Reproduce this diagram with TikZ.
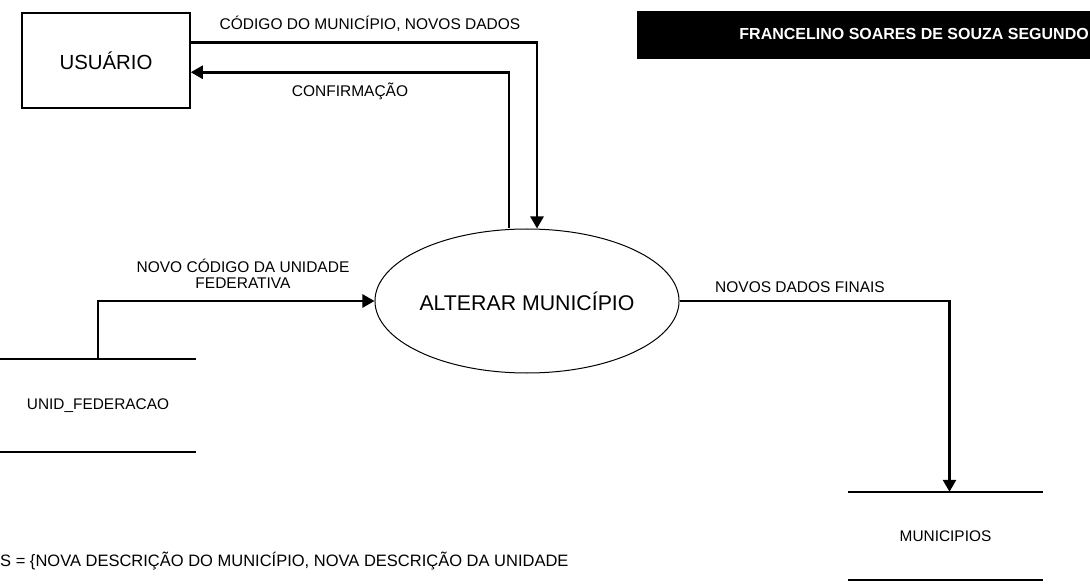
\documentclass[tikz,border=0pt]{standalone}
\usepackage{fontspec}
\setmainfont{Liberation Sans}
\usetikzlibrary{positioning,arrows.meta,shapes.geometric}

\begin{document}
\begin{tikzpicture}[
x=1pt, y=-1pt,
entity/.style={draw, line width=1.5pt, minimum width=168pt, minimum height=95pt, font=\fontsize{20.4}{22}\selectfont},
process/.style={draw, ellipse, line width=1pt, minimum width=244pt, minimum height=144pt, inner sep=0pt, font=\fontsize{21.3}{23}\selectfont},
store/.style={inner sep=0pt, font=\fontsize{15.4}{17}\selectfont},
storeline/.style={line width=1.5pt},
flow/.style={-{Triangle[length=12pt, width=13pt]}, line width=2.6pt},
lbl/.style={font=\fontsize{15.5}{16.5}\selectfont, inner sep=1pt, align=center},
banner/.style={fill=black, minimum width=460pt, minimum height=48pt, inner sep=0pt}
]
\useasboundingbox (0,0) rectangle (1090,588);

% entidade externa e processo
\node[entity] (usr) at (106,60.5) {USUÁRIO};
\node[process] (proc) at (527,301) {ALTERAR MUNICÍPIO};

% depositos de dados
\node[store, minimum width=196pt, minimum height=93pt] (ufe) at (98,405.5) {UNID\_FEDERACAO};
\draw[storeline] (ufe.north west) -- (ufe.north east);
\draw[storeline] (ufe.south west) -- (ufe.south east);
\node[store, minimum width=195pt, minimum height=88pt] (mun) at (945.5,536) {MUNICIPIOS};
\draw[storeline] (mun.north west) -- (mun.north east);
\draw[storeline] (mun.south west) -- (mun.south east);

% fluxos
\draw[flow] ([yshift=-30pt]usr.north east) -| ([xshift=10pt]proc.north);
\draw[flow] ([xshift=-18pt]proc.north) |- ([yshift=-60pt]usr.north east);
\draw[flow] (ufe.north) |- (proc.west);
\draw[flow] (proc.east) -| ([xshift=4pt]mun.north);

% rotulos dos fluxos
\node[lbl] (l1) at (370,24) {CÓDIGO DO MUNICÍPIO, NOVOS DADOS};
\node[lbl] (l2) at (350,91) {CONFIRMAÇÃO};
\node[lbl] (l3) at (243,274) {NOVO CÓDIGO DA UNIDADE\\FEDERATIVA};
\node[lbl] (l4) at (800,287) {NOVOS DADOS FINAIS};

% faixa do autor
\node[banner, anchor=north west] (ban) at (637,11) {};
\node[text=white, font=\bfseries\fontsize{16}{18}\selectfont, anchor=east, inner sep=1pt] (autor) at (1090,34) {FRANCELINO SOARES DE SOUZA SEGUNDO};

% dicionario
\node[lbl, font=\fontsize{16.5}{18}\selectfont, anchor=west] (dic) at (-1,561) {S = \{NOVA DESCRIÇÃO DO MUNICÍPIO, NOVA DESCRIÇÃO DA UNIDADE};
\end{tikzpicture}
\end{document}
